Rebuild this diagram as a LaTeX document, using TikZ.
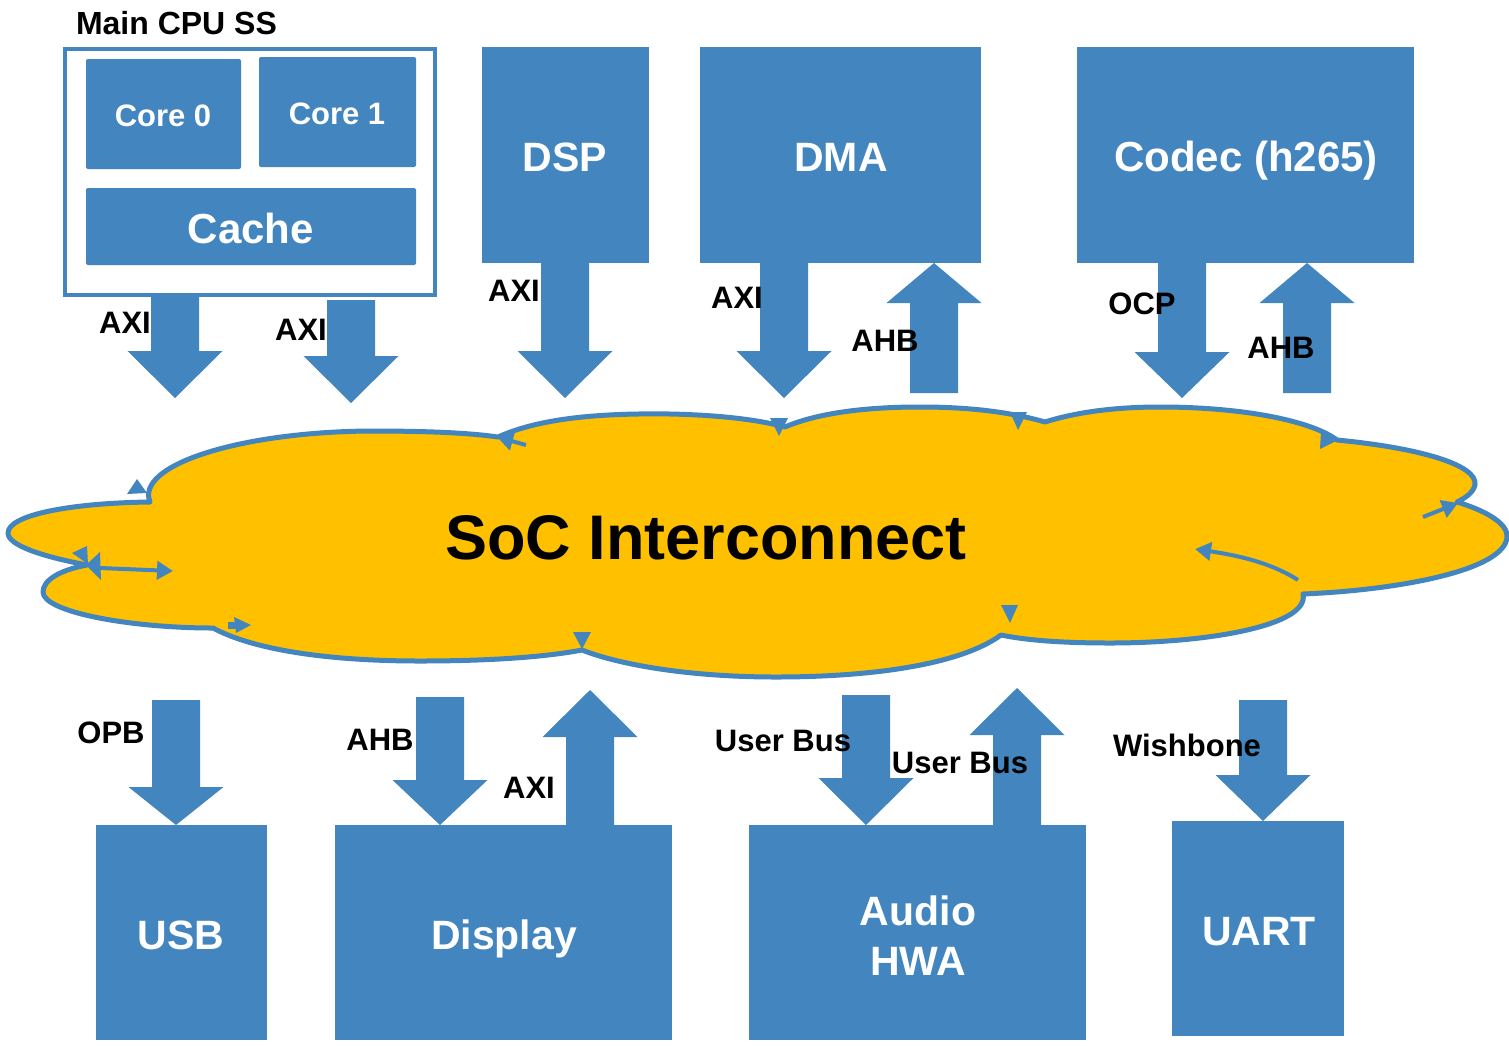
\documentclass[tikz,border=0pt]{standalone}
\usepackage{fontspec}
\setmainfont{Liberation Sans}
\usetikzlibrary{arrows.meta,fit}
\definecolor{blk}{RGB}{66,133,191}
\definecolor{gold}{RGB}{255,192,0}
\newcommand\barr[4]{% cx, ystart, yhead, ytip
  \fill[blk] (#1-24,#2) -- (#1+24,#2) -- (#1+24,#3) -- (#1+47.5,#3) -- (#1,#4) -- (#1-47.5,#3) -- (#1-24,#3) -- cycle;}
\begin{document}
\begin{tikzpicture}[x=1pt,y=-1pt,
  box/.style={fill=blk, draw=none, inner sep=0pt},
  rbox/.style={box, rounded corners=2pt},
  t31/.style={font=\fontsize{31}{37}\selectfont\bfseries, inner sep=0pt, anchor=base},
  w31/.style={t31, text=white},
  w41/.style={font=\fontsize{41}{50}\selectfont\bfseries, text=white, inner sep=0pt, anchor=base, align=center},
  mk/.style={fill=blk},
  tipline/.style={blk, line width=4pt, -{Triangle[length=16pt,width=18pt]}}]
\useasboundingbox (0,0) rectangle (1509,1045);

% ---------- Main CPU subsystem ----------
\node[t31, font=\fontsize{32}{38}\selectfont\bfseries] (cpulbl) at (176.5,34) {Main CPU SS};
\node[draw=blk, line width=4pt, fill=white, inner sep=0pt, fit={(65,49) (435,295)}] (cpu) {};
\node[rbox, fit={(86,59) (241,169)}] (core0) {};
\node[w31] at (163,126) {Core 0};
\node[rbox, fit={(259,57) (416,167)}] (core1) {};
\node[w31] at (337,124) {Core 1};
\node[rbox, fit={(86,188) (416,265)}] (cache) {};
\node[w41, font=\fontsize{42}{50}\selectfont\bfseries] at (251,243) {Cache};

% ---------- top masters ----------
\node[box, fit={(482,47) (649,263)}] (dsp) {};
\node[w41] at (565,171) {DSP};
\node[box, fit={(700,47) (981,263)}] (dma) {};
\node[w41] at (841,171) {DMA};
\node[box, fit={(1077,47) (1414,263)}] (codec) {};
\node[w41, font=\fontsize{42}{50}\selectfont\bfseries] at (1246,171) {Codec (h265)};

% ---------- bottom slaves ----------
\node[box, fit={(96,825) (267,1040)}] (usb) {};
\node[w41] at (181,949) {USB};
\node[box, fit={(335,825) (672,1040)}] (disp) {};
\node[w41] at (504,949) {Display};
\node[box, fit={(749,825) (1086,1040)}] (audio) {};
\node[w41] at (918,975) {Audio\\HWA};
\node[box, fit={(1172,821) (1344,1036)}] (uart) {};
\node[w41] at (1259,945) {UART};

% ---------- cloud ----------
\draw[blk, line width=5pt, fill=gold, line join=round] (150,502)
 .. controls (135,465) and (240,432) .. (370,431)
 .. controls (430,431) and (470,433) .. (498,437)
 .. controls (540,418) and (600,413) .. (670,414)
 .. controls (720,415) and (760,420) .. (785,427)
 .. controls (820,412) and (870,407) .. (920,407)
 .. controls (970,407) and (1010,412) .. (1045,422)
 .. controls (1080,411) and (1120,407) .. (1160,407)
 .. controls (1240,407) and (1310,420) .. (1337,440)
 .. controls (1420,448) and (1478,465) .. (1475,485)
 .. controls (1473,493) and (1465,498) .. (1457,502)
 .. controls (1490,512) and (1508,525) .. (1507,537)
 .. controls (1505,570) and (1400,590) .. (1303,594)
 .. controls (1310,625) and (1210,643) .. (1110,643)
 .. controls (1060,643) and (1025,640) .. (1001,635)
 .. controls (960,665) and (870,677) .. (776,677)
 .. controls (690,677) and (620,665) .. (582,650)
 .. controls (540,658) and (480,661) .. (420,661)
 .. controls (320,661) and (250,648) .. (213,628)
 .. controls (130,628) and (43,612) .. (43,592)
 .. controls (43,580) and (60,570) .. (87,565)
 .. controls (40,556) and (8,545) .. (8,533)
 .. controls (8,515) and (70,503) .. (150,502) -- cycle;
\node[font=\fontsize{63}{70}\selectfont\bfseries, inner sep=0pt, anchor=base] (soc) at (706,559) {SoC Interconnect};

% small marks inside the cloud
\fill[mk] (137,479) -- (147,493) -- (127,494) -- cycle;
\fill[mk] (72,553) -- (87,546) -- (88,564) -- cycle;
\fill[mk] (86,565) -- (100,552) -- (101,580) -- cycle;
\draw[tipline] (100,568) -- (173,571);
\fill[mk] (234,617) -- (251,625) -- (236,633) -- cycle;
\fill[mk] (228,622) rectangle (236,629);
\draw[tipline] (526,445) -- (497,437);
\fill[mk] (770,418) -- (788,418) -- (779,436) -- cycle;
\fill[mk] (1010,412) -- (1027,412) -- (1018,430) -- cycle;
\fill[mk] (1321,431) -- (1338,440) -- (1320,449) -- cycle;
\draw[tipline] (1423,517) -- (1458,503);
\draw[tipline] (1298,580) .. controls (1270,562) and (1235,555) .. (1195,549);
\fill[mk] (1001,605) -- (1018,605) -- (1010,623) -- cycle;
\fill[mk] (573,632) -- (591,632) -- (582,649) -- cycle;

% ---------- block arrows ----------
\barr{175}{295}{351}{398}
\barr{351}{300}{356}{403}
\barr{565}{263}{351}{398}
\barr{784}{263}{351}{398}
\barr{934}{393}{303}{263}
\barr{1182}{263}{352}{398}
\barr{1307}{393}{303}{263}
\barr{176}{700}{787}{825}
\barr{440}{697}{780}{825}
\barr{590}{825}{737}{690}
\barr{866}{695}{778}{825}
\barr{1017}{825}{735}{688}
\barr{1263}{700}{775}{821}

% ---------- bus labels ----------
\node[t31] (l1) at (125,333) {AXI};
\node[t31] (l2) at (301,340) {AXI};
\node[t31] (l3) at (514,301) {AXI};
\node[t31] (l4) at (737,308) {AXI};
\node[t31] (l5) at (885,351) {AHB};
\node[t31] (l6) at (1142,314) {OCP};
\node[t31] (l7) at (1281,358) {AHB};
\node[t31] (l8) at (111,743) {OPB};
\node[t31] (l9) at (380,750) {AHB};
\node[t31] (l10) at (529,798) {AXI};
\node[t31] (l11) at (783,751) {User Bus};
\node[t31] (l12) at (960,773) {User Bus};
\node[t31] (l13) at (1187,756) {Wishbone};
\end{tikzpicture}
\end{document}
